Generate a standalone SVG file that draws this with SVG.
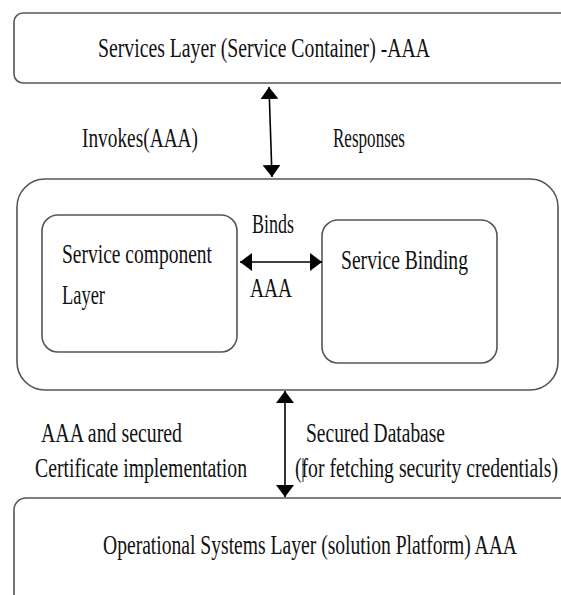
<svg xmlns="http://www.w3.org/2000/svg" width="561" height="595" viewBox="0 0 561 595">
<style>
.box{fill:#fff;stroke:#555;stroke-width:1.6}
.t{font-family:"Liberation Serif","Times New Roman",serif;font-size:27px;fill:#111}
.c{stroke:#000;stroke-width:1.6;fill:none}
</style>
<defs>
<marker id="ah" viewBox="0 0 12 18" refX="12" refY="9" markerWidth="12" markerHeight="18" markerUnits="userSpaceOnUse" orient="auto-start-reverse">
<path d="M0,0 L12,9 L0,18 Z" fill="#000"/>
</marker>
</defs>
<rect width="561" height="595" fill="#fff"/>
<g id="services-layer">
<rect class="box" x="14" y="13" width="570" height="70" rx="9"/>
<text class="t" x="98" y="57" textLength="332" lengthAdjust="spacingAndGlyphs">Services Layer (Service Container) -AAA</text>
</g>
<g id="middle-container">
<rect class="box" x="17" y="179" width="541" height="211" rx="28"/>
</g>
<g id="service-component">
<rect class="box" x="42" y="215" width="195" height="137" rx="16"/>
<text class="t" x="62" y="263" textLength="150" lengthAdjust="spacingAndGlyphs">Service component</text>
<text class="t" x="62" y="304" textLength="43" lengthAdjust="spacingAndGlyphs">Layer</text>
</g>
<g id="service-binding">
<rect class="box" x="322" y="220" width="175" height="143" rx="16"/>
<text class="t" x="341" y="269" textLength="127" lengthAdjust="spacingAndGlyphs">Service Binding</text>
</g>
<g id="operational-layer">
<rect class="box" x="14" y="498" width="570" height="110" rx="12"/>
<text class="t" x="103" y="554" textLength="414" lengthAdjust="spacingAndGlyphs">Operational Systems Layer (solution Platform) AAA</text>
</g>
<g id="connectors">
<line class="c" x1="269" y1="87" x2="272" y2="177" marker-start="url(#ah)" marker-end="url(#ah)"/>
<line class="c" x1="240" y1="262" x2="322" y2="262" marker-start="url(#ah)" marker-end="url(#ah)"/>
<line class="c" x1="285" y1="391" x2="285" y2="497" marker-start="url(#ah)" marker-end="url(#ah)"/>
<line x1="303" y1="458" x2="303" y2="482" stroke="#333" stroke-width="1"/>
</g>
<g id="labels">
<text class="t" x="82" y="147" textLength="116" lengthAdjust="spacingAndGlyphs">Invokes(AAA)</text>
<text class="t" x="333" y="147" textLength="72" lengthAdjust="spacingAndGlyphs">Responses</text>
<text class="t" x="252" y="233" textLength="42" lengthAdjust="spacingAndGlyphs">Binds</text>
<text class="t" x="250" y="297" textLength="42" lengthAdjust="spacingAndGlyphs">AAA</text>
<text class="t" x="41" y="442" textLength="141" lengthAdjust="spacingAndGlyphs">AAA and secured</text>
<text class="t" x="35" y="477" textLength="212" lengthAdjust="spacingAndGlyphs">Certificate implementation</text>
<text class="t" x="306" y="442" textLength="139" lengthAdjust="spacingAndGlyphs">Secured Database</text>
<text class="t" x="295" y="477" textLength="263" lengthAdjust="spacingAndGlyphs">(for fetching security credentials)</text>
</g>
</svg>
